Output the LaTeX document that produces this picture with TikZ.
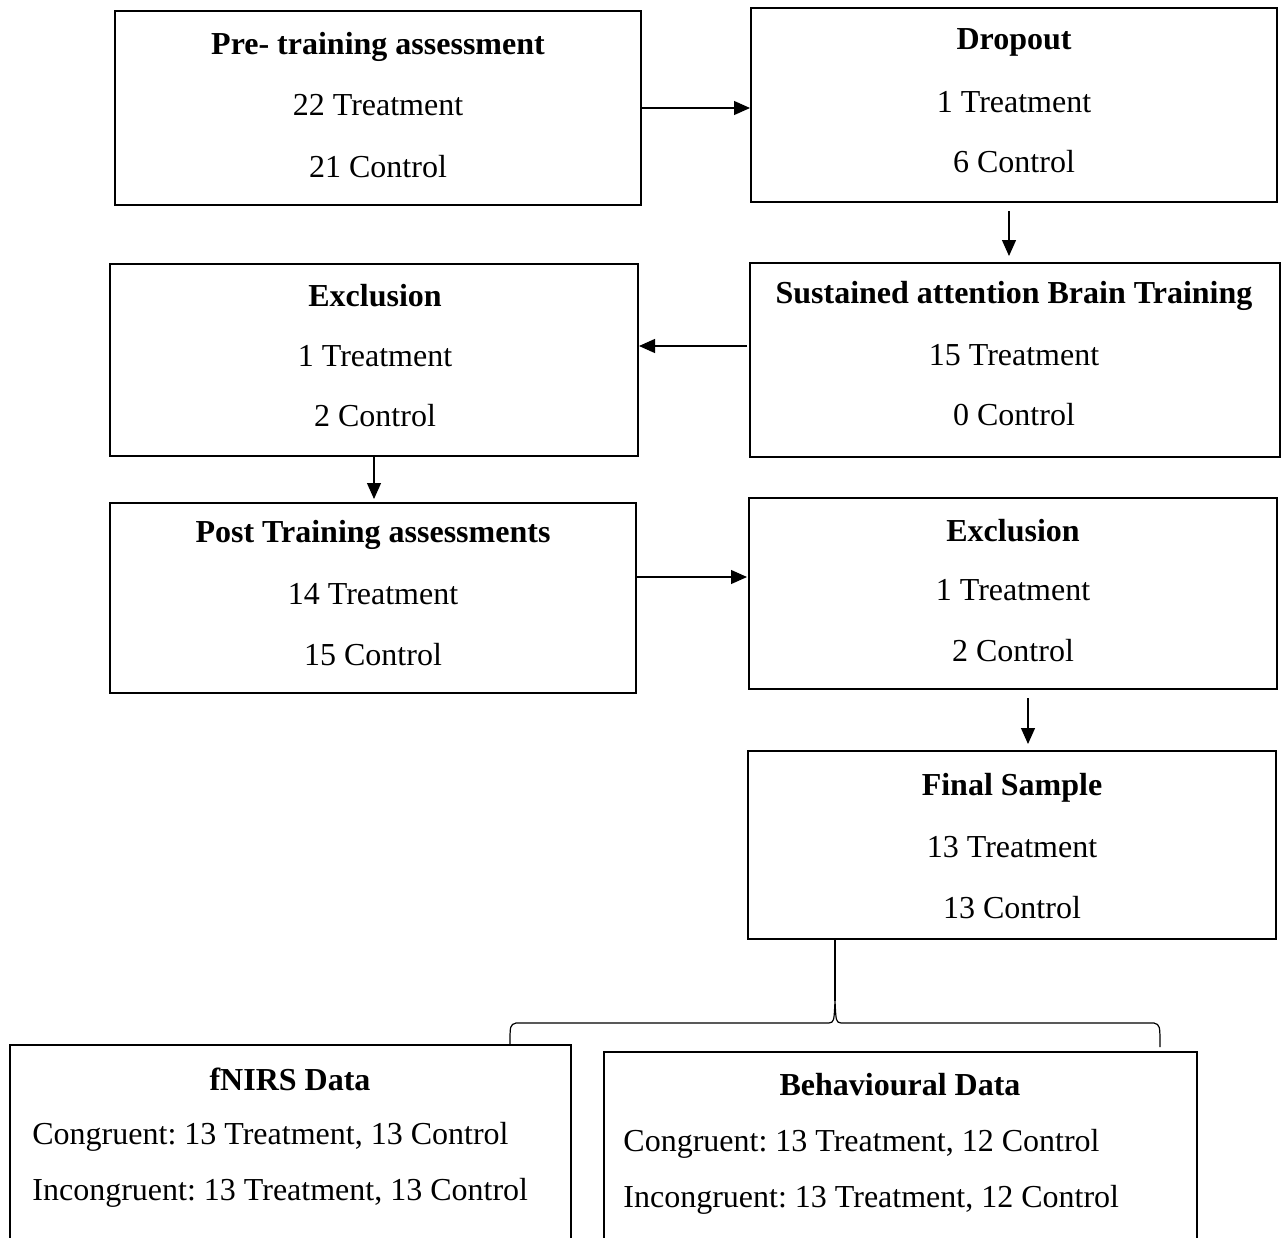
\documentclass[tikz,border=0pt]{standalone}
\usepackage{fontspec}
\setmainfont{Liberation Serif}
\usetikzlibrary{arrows.meta}
\frenchspacing
\begin{document}
\begin{tikzpicture}[x=0.5pt,y=-0.5pt,
  box/.style={draw,line width=1pt,inner sep=0pt},
  txt/.style={inner sep=0pt,font=\fontsize{16}{19}\selectfont},
  ttl/.style={txt,font=\fontsize{16}{19}\selectfont\bfseries},
  arr/.style={line width=0.6pt,-{Triangle[length=8pt,width=7pt]}},
  thin/.style={line width=0.6pt}]
\useasboundingbox (0,0) rectangle (1285,1237);
% boxes
\node[box,minimum width=263pt,minimum height=97pt] (pre) at (378,108) {};
\node[box,minimum width=263pt,minimum height=97pt] (drop) at (1014,105) {};
\node[box,minimum width=265pt,minimum height=97pt] (sust) at (1015,360) {};
\node[box,minimum width=264pt,minimum height=96pt] (exc1) at (374,360) {};
\node[box,minimum width=263pt,minimum height=95pt] (post) at (373,598) {};
\node[box,minimum width=264pt,minimum height=95.5pt] (exc2) at (1013,593.5) {};
\node[box,minimum width=264pt,minimum height=94pt] (final) at (1012,845) {};
\node[box,minimum width=280.5pt,minimum height=107.5pt] (fnirs) at (290.5,1152.5) {};
\node[box,minimum width=296.5pt,minimum height=104pt] (behav) at (900.5,1156) {};
% texts
\node[ttl] (preT) at (378,47) {Pre- training assessment};
\node[txt] (preA) at (378,105) {22 Treatment};
\node[txt] (preB) at (378,167) {21 Control};
\node[ttl] (dropT) at (1014,42) {Dropout};
\node[txt] (dropA) at (1014,102) {1 Treatment};
\node[txt] (dropB) at (1014,162) {6 Control};
\node[ttl] (sustT) at (1014,296) {Sustained attention Brain Training};
\node[txt] (sustA) at (1014,355) {15 Treatment};
\node[txt] (sustB) at (1014,415) {0 Control};
\node[ttl] (exc1T) at (375,296) {Exclusion};
\node[txt] (exc1A) at (375,356) {1 Treatment};
\node[txt] (exc1B) at (375,416) {2 Control};
\node[ttl] (postT) at (373,535) {Post Training assessments};
\node[txt] (postA) at (373,594) {14 Treatment};
\node[txt] (postB) at (373,655) {15 Control};
\node[ttl] (exc2T) at (1013,531) {Exclusion};
\node[txt] (exc2A) at (1013,590) {1 Treatment};
\node[txt] (exc2B) at (1013,651) {2 Control};
\node[ttl] (finalT) at (1012,788) {Final Sample};
\node[txt] (finalA) at (1012,847) {13 Treatment};
\node[txt] (finalB) at (1012,908) {13 Control};
\node[ttl] (fnirsT) at (290,1079) {fNIRS Data};
\node[txt,anchor=west] (fnirsA) at (32,1137) {Congruent: 13 Treatment, 13 Control};
\node[txt,anchor=west] (fnirsB) at (32,1193) {Incongruent: 13 Treatment, 13 Control};
\node[ttl] (behavT) at (900,1085) {Behavioural Data};
\node[txt,anchor=west] (behavA) at (623,1144) {Congruent: 13 Treatment, 12 Control};
\node[txt,anchor=west] (behavB) at (623,1200) {Incongruent: 13 Treatment, 12 Control};
% arrows
\draw[arr] (pre.east) -- (pre.east -| drop.west);
\draw[arr,shorten <=4pt,shorten >=3pt] ([xshift=-2.5pt]drop.south) -- ([xshift=-2.5pt]drop.south |- sust.north);
\draw[arr,shorten <=1pt] ([yshift=7pt]sust.west) -- ([yshift=7pt]sust.west -| exc1.east);
\draw[arr,shorten >=1.5pt] (exc1.south) -- (exc1.south |- post.north);
\draw[arr,shorten >=0.5pt] ([yshift=10.5pt]post.east) -- ([yshift=10.5pt]post.east -| exc2.west);
\draw[arr,shorten <=4pt,shorten >=3pt] ([xshift=7.5pt]exc2.south) -- ([xshift=7.5pt]exc2.south |- final.north);
% brace
\coordinate (bt) at (835,1001);
\coordinate (bl) at (510,1045);
\coordinate (br) at (1160,1047);
\draw[thin] ([xshift=-88.5pt]final.south) -- (bt);
\draw[thin] (bl) .. controls (510,1025) .. (516,1023) -- (829,1023) .. controls (834,1022) .. (bt)
  .. controls (836,1022) .. (841,1023) -- (1154,1023) .. controls (1160,1025) .. (br);
\end{tikzpicture}
\end{document}
